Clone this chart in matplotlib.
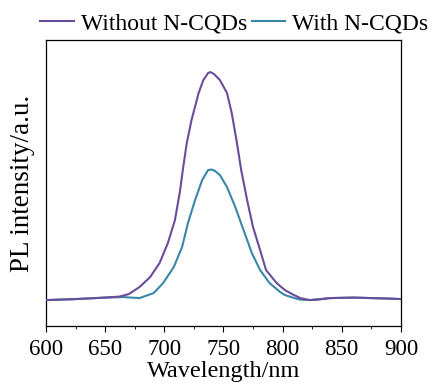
import matplotlib.pyplot as plt
import numpy as np

plt.rcParams['font.family'] = ['Liberation Serif', 'DejaVu Serif']

# wavelength (nm) and PL intensity (a.u.)
wl_without = [600, 625, 650, 662, 670, 679, 688, 696, 703, 709, 713, 716, 719, 723, 729,
              733, 737, 739, 742, 747, 753, 757, 761, 765, 770, 775, 781, 786, 795, 802,
              808, 815, 823, 830, 840, 860, 875, 890, 900]
pl_without = [26, 27, 28.5, 29.5, 32, 39, 49, 63, 83, 106, 133, 159, 183, 206, 233,
              246, 253, 254, 252, 246, 233, 213, 186, 156, 126, 99, 76, 56, 43, 36,
              32, 28, 26, 26.5, 28, 28.5, 28, 27.5, 27]

wl_with = [600, 625, 650, 665, 679, 691, 699, 708, 715, 720, 726, 732, 737, 740, 743,
           747, 753, 760, 767, 774, 781, 789, 798, 802, 810, 815, 823, 840, 860, 875,
           890, 900]
pl_with = [26, 27, 28.5, 29, 28, 33, 43, 59, 79, 103, 126, 146, 156, 156.5, 155,
           151, 139, 119, 96, 73, 56, 43, 34, 31, 28, 26.5, 26, 28, 28.5, 28,
           27.5, 27]

labels = ['Without N-CQDs', 'With N-CQDs']
colors = ['#6b4c9a', '#3a86a8']

fig = plt.figure(figsize=(4.32, 3.85), dpi=100)
ax = fig.add_axes([0.1065, 0.153, 0.8215, 0.743])

# purple drawn on top, as in the original
ax.plot(wl_without, pl_without, color=colors[0], lw=1.5, label=labels[0], zorder=3)
ax.plot(wl_with, pl_with, color=colors[1], lw=1.5, label=labels[1], zorder=2)

ax.set_xlim(600, 900)
ax.set_ylim(0, 286)
ax.set_xticks(np.arange(600, 901, 50))
ax.set_xticks(np.arange(625, 900, 50), minor=True)
ax.set_yticks([])
ax.tick_params(axis='x', which='major', direction='out', length=4, labelsize=16.5, pad=5)
ax.tick_params(axis='x', which='minor', direction='out', length=2.5)
ax.set_xlabel('Wavelength/nm', fontsize=17.5, labelpad=1)
ax.set_ylabel('PL intensity/a.u.', fontsize=19.5, labelpad=8)
for s in ax.spines.values():
    s.set_linewidth(0.9)

fig.legend(loc='upper center', bbox_to_anchor=(0.542, 0.992), ncol=2, frameon=False,
           fontsize=17, handlelength=1.4, handletextpad=0.3, columnspacing=0.2,
           borderaxespad=0)

fig.savefig('out.png', dpi=100)
